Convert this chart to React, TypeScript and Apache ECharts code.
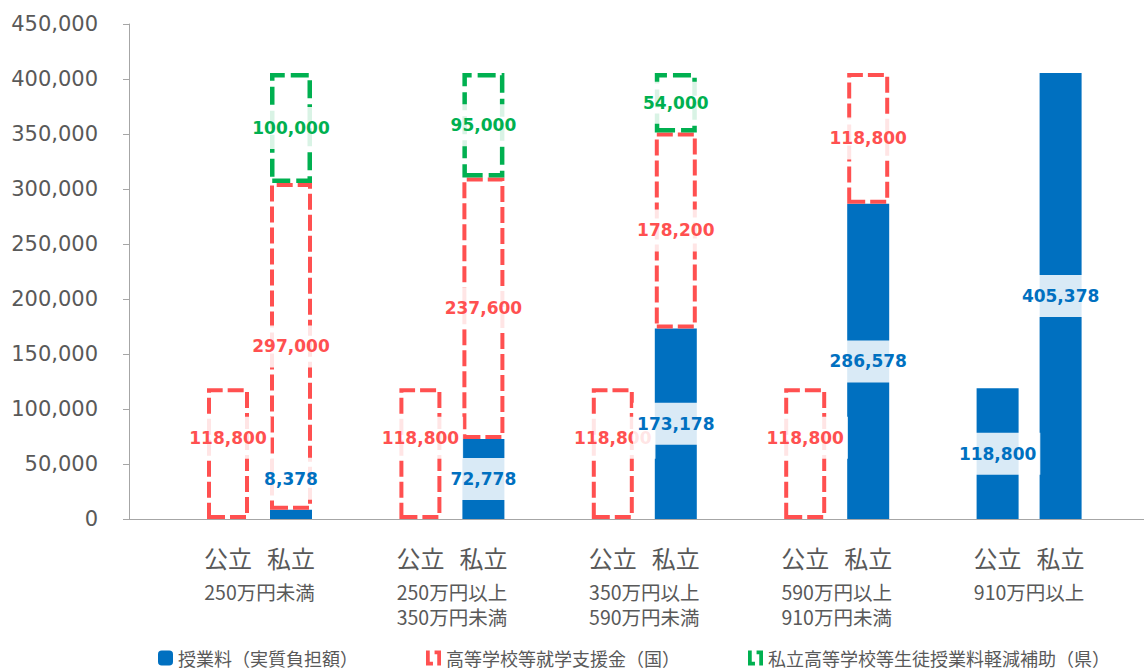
import React, { useEffect, useRef } from "react";
import * as echarts from "echarts";

// ---- data ----
const incomeGroups = [
  "250万円未満",
  "250万円以上\n350万円未満",
  "350万円以上\n590万円未満",
  "590万円以上\n910万円未満",
  "910万円以上",
];
const schoolTypes = ["公立", "私立"];
const seriesNames = [
  "授業料（実質負担額）",
  "高等学校等就学支援金（国）",
  "私立高等学校等生徒授業料軽減補助（県）",
];
const publicTuition = [0, 0, 0, 0, 118800];
const publicNationalAid = [118800, 118800, 118800, 118800, 0];
const privateTuition = [8378, 72778, 173178, 286578, 405378];
const privateNationalAid = [297000, 237600, 178200, 118800, 0];
const privatePrefAid = [100000, 95000, 54000, 0, 0];
const yMin = 0;
const yMax = 450000;
const yInterval = 50000;

const BLUE = "#0070c0";
const RED = "#ff5050";
const GREEN = "#00b050";
const GRAY_TEXT = "#595959";
const AXIS_GRAY = "#a6a6a6";

const fmt = (v: number) => Number(v).toLocaleString("en-US");
const clean = (arr: number[]) => arr.map((v) => (v === 0 ? "-" : v));

const labelBase = (color: string) => ({
  show: true,
  position: "inside",
  color,
  fontFamily: "DejaVu Sans",
  fontWeight: "bold",
  fontSize: 17,
  lineHeight: 20,
  backgroundColor: "rgba(255,255,255,0.85)",
  padding: [11, 4],
  formatter: (p: any) => fmt(p.value),
});

const iconPath = "path://M0,0H3.5V10.5H6.5V14H0Z M8,0H14V14H10.5V3.5H8Z";

export default function App() {
  const ref = useRef<HTMLDivElement>(null);
  useEffect(() => {
    if (!ref.current) return;
    const chart = echarts.init(ref.current, undefined, { renderer: "svg" });
    const common = {
      type: "bar",
      xAxisIndex: 1,
      yAxisIndex: 1,
      barWidth: 42,
      barGap: "50%",
    };
    const redStyle = {
      color: "rgba(0,0,0,0)",
      borderColor: RED,
      borderWidth: 4,
      borderType: [16, 5],
    };
    const greenStyle = {
      color: "rgba(0,0,0,0)",
      borderColor: GREEN,
      borderWidth: 4.5,
      borderType: [18, 6],
    };
    const privTuitionData = clean(privateTuition).map((v, i) =>
      i === 0 ? { value: v, label: { position: "top", distance: 10 } } : v
    );
    const option: any = {
      animation: false,
      grid: [
        { left: 129, right: 0, top: 24, bottom: 149 },
        { left: 163.3, right: 18.7, top: 24, bottom: 149 },
      ],
      xAxis: [
        {
          type: "value",
          gridIndex: 0,
          min: 0,
          max: 1,
          axisLine: { show: true, lineStyle: { color: AXIS_GRAY, width: 1 } },
          axisTick: { show: false },
          axisLabel: { show: false },
          splitLine: { show: false },
        },
        {
          type: "category",
          gridIndex: 1,
          data: incomeGroups,
          axisLine: { show: false },
          axisTick: { show: false },
          axisLabel: {
            interval: 0,
            margin: 17,
            color: GRAY_TEXT,
            fontFamily: "Noto Sans CJK JP",
            formatter: (value: string) =>
              `{a|${schoolTypes[0]}}{s| }{a|${schoolTypes[1]}}\n` +
              value
                .split("\n")
                .map((l) => `{b|${l}}`)
                .join("\n"),
            rich: {
              a: { fontSize: 24, lineHeight: 43, color: GRAY_TEXT, fontFamily: "Noto Sans CJK JP" },
              s: { width: 15, fontSize: 10, lineHeight: 43 },
              b: { fontSize: 19.5, lineHeight: 25, color: GRAY_TEXT, fontFamily: "Noto Sans CJK JP" },
            },
          },
        },
      ],
      yAxis: [
        {
          type: "value",
          gridIndex: 0,
          min: yMin,
          max: yMax,
          interval: yInterval,
          axisLine: { show: true, lineStyle: { color: AXIS_GRAY, width: 1 } },
          axisTick: { show: true, length: 6, lineStyle: { color: AXIS_GRAY } },
          splitLine: { show: false },
          axisLabel: {
            margin: 31,
            color: GRAY_TEXT,
            fontFamily: "DejaVu Sans",
            fontSize: 21,
            formatter: (v: number) => fmt(v),
          },
        },
        {
          type: "value",
          gridIndex: 1,
          min: yMin,
          max: yMax,
          interval: yInterval,
          show: false,
          splitLine: { show: false },
        },
      ],
      legend: {
        left: 153,
        top: 644,
        itemWidth: 15,
        itemHeight: 15,
        itemGap: 68,
        textStyle: {
          color: GRAY_TEXT,
          fontSize: 18,
          lineHeight: 18,
          fontFamily: "Noto Sans CJK JP",
        },
        data: [
          { name: seriesNames[0], icon: "roundRect", itemStyle: { color: BLUE, borderWidth: 0 } },
          { name: seriesNames[1], icon: iconPath, itemStyle: { color: RED, borderWidth: 0 } },
          { name: seriesNames[2], icon: iconPath, itemStyle: { color: GREEN, borderWidth: 0 } },
        ],
      },
      series: [
        {
          ...common,
          name: seriesNames[0],
          stack: "public",
          data: clean(publicTuition),
          itemStyle: { color: BLUE },
          label: labelBase(BLUE),
        },
        {
          ...common,
          name: seriesNames[1],
          stack: "public",
          data: clean(publicNationalAid),
          itemStyle: redStyle,
          label: { ...labelBase(RED), offset: [0, -16] },
        },
        {
          ...common,
          name: seriesNames[0],
          stack: "private",
          data: privTuitionData,
          itemStyle: { color: BLUE },
          label: labelBase(BLUE),
        },
        {
          ...common,
          name: seriesNames[1],
          stack: "private",
          data: clean(privateNationalAid),
          itemStyle: redStyle,
          label: labelBase(RED),
        },
        {
          ...common,
          name: seriesNames[2],
          stack: "private",
          data: clean(privatePrefAid),
          itemStyle: greenStyle,
          label: labelBase(GREEN),
        },
      ],
    };
    chart.setOption(option);
    return () => chart.dispose();
  }, []);
  return (
    <div
      ref={ref}
      style={{ position: "fixed", left: 0, top: 0, width: 1144, height: 668, background: "#fff" }}
    />
  );
}
